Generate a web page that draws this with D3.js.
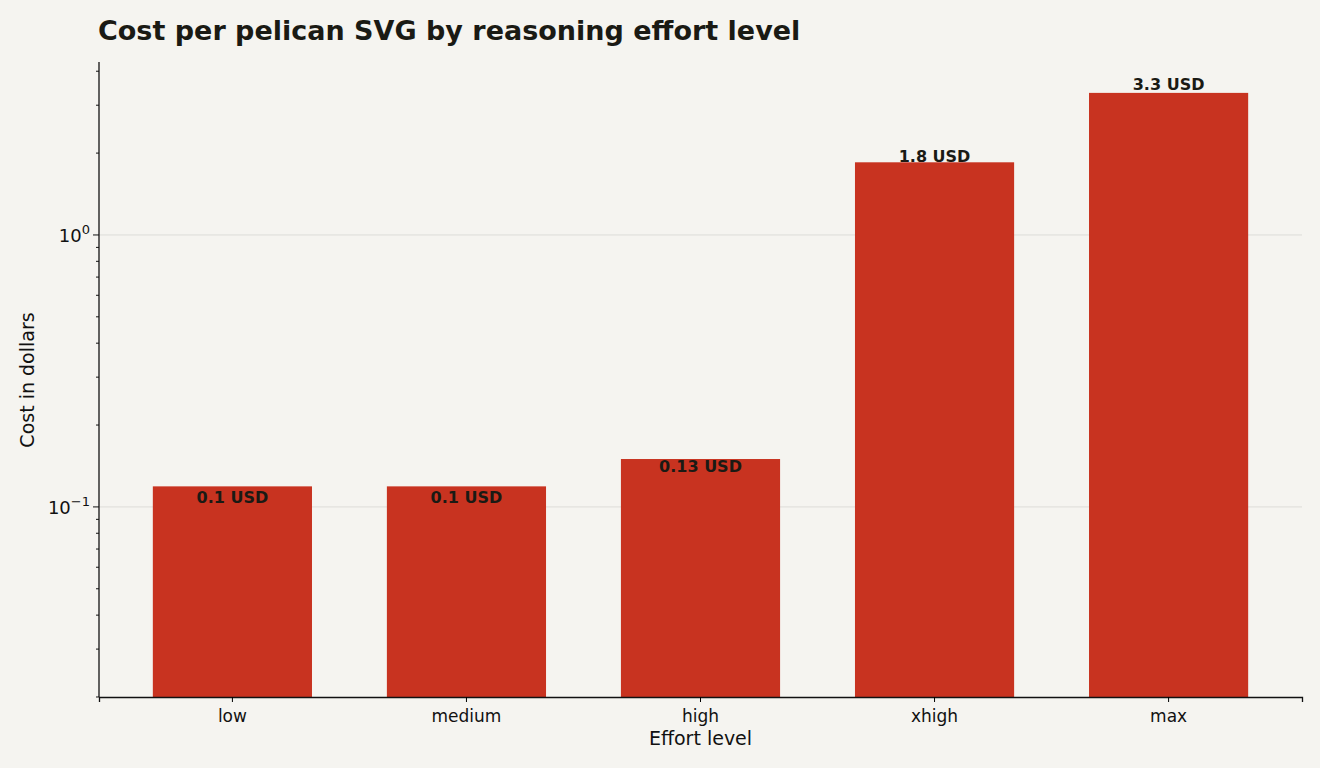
<!DOCTYPE html><html><head><meta charset="utf-8">
<script src="https://cdn.jsdelivr.net/npm/d3@7"></script>
<style>body{margin:0;background:#f5f4f0;font-family:"DejaVu Sans",sans-serif}</style></head><body>
<svg id="c" width="1320" height="768"></svg>
<script>
const categories=["low","medium","high","xhigh","max"];
const values=[0.119,0.119,0.150,1.85,3.33];
const labels=["0.1 USD","0.1 USD","0.13 USD","1.8 USD","3.3 USD"];
const labelValues=[0.1,0.1,0.13,1.8,3.3];
const svg=d3.select("#c");
const L=99,R=1302,T=62,B=697;
const y=d3.scaleLog().domain([Math.pow(10,-1.699),Math.pow(10,0.636)]).range([B,T]);
const x=d3.scaleBand().domain(categories).range([L,R]).paddingInner(0.32).paddingOuter(0.23);
svg.append("rect").attr("width",1320).attr("height",768).attr("fill","#f5f4f0");
[0.1,1].forEach(v=>svg.append("line").attr("x1",L).attr("x2",R).attr("y1",y(v)).attr("y2",y(v)).attr("stroke","#dddcd8").attr("stroke-width",1));
svg.selectAll("rect.bar").data(values).enter().append("rect").attr("class","bar")
 .attr("x",(d,i)=>x(categories[i])).attr("width",x.bandwidth()).attr("y",d=>y(d)).attr("height",d=>B-y(d)).attr("fill","#c83320");
svg.selectAll("text.lab").data(labels).enter().append("text")
 .attr("x",(d,i)=>x(categories[i])+x.bandwidth()/2).attr("y",(d,i)=>y(labelValues[i])-4)
 .attr("text-anchor","middle").attr("font-size",16).attr("font-weight","bold").attr("fill","#1a1a14").text(d=>d);
// y axis
const ya=svg.append("g").attr("transform",`translate(${L},0)`);
ya.append("line").attr("y1",T).attr("y2",B).attr("stroke","#111").attr("stroke-width",1.3);
const minors=[];for(const e of [-2,-1,0])for(let k=1;k<10;k++){const v=k*Math.pow(10,e);if(v>=y.domain()[0]&&v<=y.domain()[1])minors.push(v);}
minors.forEach(v=>{const major=Math.abs(Math.log10(v)-Math.round(Math.log10(v)))<1e-9;
 ya.append("line").attr("x1",major?-6:-3).attr("x2",0).attr("y1",y(v)).attr("y2",y(v)).attr("stroke","#111");
 if(major){const t=ya.append("text").attr("x",-9).attr("y",y(v)+7).attr("text-anchor","end").attr("font-size",18).attr("fill","#111");
  t.append("tspan").text("10");t.append("tspan").attr("dy",-8).attr("font-size",13).text(Math.round(Math.log10(v))===0?"0":"\u22121");}});
// x axis
const xa=svg.append("g").attr("transform",`translate(0,${B})`).call(d3.axisBottom(x).tickSizeOuter(0).tickSize(5));
xa.select(".domain").attr("stroke","#111").attr("stroke-width",1.3);
xa.selectAll("text").attr("font-size",17).attr("font-family","DejaVu Sans").attr("fill","#111").attr("dy","1em");
svg.append("text").attr("x",(L+R)/2).attr("y",745).attr("text-anchor","middle").attr("font-size",19).attr("fill","#111").text("Effort level");
svg.append("text").attr("transform","translate(34,380) rotate(-90)").attr("text-anchor","middle").attr("font-size",19).attr("fill","#111").text("Cost in dollars");
svg.append("text").attr("x",98).attr("y",40).attr("font-size",27).attr("font-weight","bold").attr("fill","#1a1a14").text("Cost per pelican SVG by reasoning effort level");
</script></body></html>
